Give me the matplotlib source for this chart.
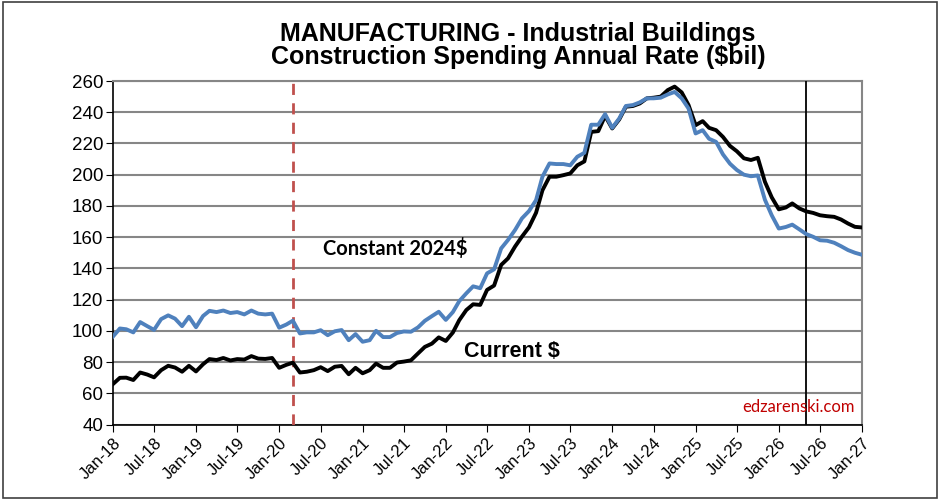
import matplotlib.pyplot as plt
import matplotlib.dates as mdates
from matplotlib.patches import Rectangle
import pandas as pd

# Monthly values, Jan-18 .. Jan-27 ($bil, annual rate)
months = pd.date_range("2018-01-01", "2027-01-01", freq="MS")

constant_2024 = [
    96.2, 101.5, 101, 99, 105.6, 103, 100.6, 107.5, 109.9, 107.8, 103, 109,
    102.3, 109.5, 112.8, 112, 113, 111.4, 112, 110.5, 113, 111, 110.5, 111,
    102, 104, 106.5, 98.3, 99, 99, 100.4, 97.2, 99.7, 100.5, 94, 97.9,
    93, 94, 100, 96, 96, 98.6, 99.6, 99.4, 102.2, 106.4, 109.4, 112.2,
    107, 112, 119, 124, 128.5, 127.3, 136.8, 139.4, 152.8, 158.2, 164.6, 172,
    176.7, 183.7, 198.7, 207.2, 206.8, 206.8, 206, 211.5, 214, 232, 232, 238.8,
    230, 236, 244, 244.6, 246.3, 248.9, 248.9, 249.3, 251.4, 253, 248.9, 242.4,
    226.4, 228.5, 223, 221, 213, 207, 203, 200, 199, 199.5, 184, 174,
    165.5, 166.5, 168, 165, 162, 160.2, 158, 157.7, 156.4, 154.2, 151.7, 150,
    148.7,
]

current = [
    65.8, 69.9, 70, 68.5, 73.3, 72, 70.2, 74.8, 77.6, 76.5, 73.8, 77.6,
    74, 78.6, 81.9, 81.3, 82.6, 81, 81.9, 81.6, 83.8, 82.2, 82, 82.6,
    76.3, 78.2, 79.6, 73.3, 73.8, 74.8, 76.7, 74.2, 77, 77.5, 72.2, 76.3,
    72.8, 74.8, 79, 76.3, 76.3, 79.7, 80.3, 81.1, 85.5, 89.7, 91.8, 95.8,
    93.5, 98.9, 106.8, 113.3, 117, 116.6, 126.2, 129, 142.2, 146.4, 154, 160.3,
    166.3, 175.6, 190, 198.7, 198.7, 199.7, 200.8, 206, 208.5, 227.4, 227.9, 237.7,
    229.6, 235.4, 243.5, 244, 245.6, 248.9, 249.3, 250, 254.2, 256.4, 252.7, 244.6,
    231.7, 234.3, 230, 228.5, 224.2, 218.4, 215, 210.5, 209.4, 210.8, 195.5, 185.5,
    177.8, 179, 181.6, 178.4, 176.5, 175.5, 174, 173.4, 173, 171.3, 168.7, 166.6,
    166.2,
]

covid_line = pd.Timestamp("2020-03-01")
forecast_line = pd.Timestamp("2026-05-01")

plt.rcParams['font.family'] = ['Liberation Sans', 'DejaVu Sans']

fig = plt.figure(figsize=(9.4, 5), dpi=100)
ax = fig.add_axes([0.120, 0.151, 0.797, 0.687])

ax.plot(months, current, color="black", lw=2.8, zorder=4)
ax.plot(months, constant_2024, color="#4F81BD", lw=2.8, zorder=5)

ax.axvline(covid_line, color="#C0504D", lw=2, ls=(0, (4, 3)), zorder=3)
ax.axvline(forecast_line, color="black", lw=1.3, zorder=3)

ax.set_xlim(months[0], months[-1])
ax.set_ylim(40, 260)
ax.set_yticks(range(40, 261, 20))
ax.yaxis.grid(True, color="#868686", lw=1.5)
ax.set_axisbelow(True)

ax.xaxis.set_major_locator(mdates.MonthLocator(bymonth=[1, 7]))
ax.xaxis.set_major_formatter(mdates.DateFormatter("%b-%y"))
plt.setp(ax.get_xticklabels(), rotation=45, ha="right", rotation_mode="anchor")
ax.tick_params(axis="x", labelsize=12, length=5, direction="out", pad=3)
ax.tick_params(axis="y", labelsize=13.5, length=5, direction="out", pad=2)

for side in ["top", "right"]:
    ax.spines[side].set_color("#868686")
    ax.spines[side].set_linewidth(1.5)
for side in ["left", "bottom"]:
    ax.spines[side].set_color("black")
    ax.spines[side].set_linewidth(1.2)

fig.text(0.551, 0.931, "MANUFACTURING - Industrial Buildings", ha="center", va="center",
         fontsize=18, fontweight="bold")
fig.text(0.551, 0.886, "Construction Spending Annual Rate ($bil)", ha="center", va="center",
         fontsize=18, fontweight="bold")

ax.text(pd.Timestamp("2020-07-13"), 153, "Constant 2024$", fontsize=14.5, fontweight="bold",
        family=["Lato", "DejaVu Sans"], va="center")
ax.text(pd.Timestamp("2022-03-24"), 86.5, "Current $", fontsize=15.5, fontweight="bold",
        va="center")
ax.text(0.99, 0.05, "edzarenski.com", transform=ax.transAxes, ha="right", va="center",
        fontsize=12, color="#C00000", family=["Lato", "DejaVu Sans"])

fig.patches.append(Rectangle((0.003, 0.004), 0.994, 0.992, transform=fig.transFigure,
                             fill=False, edgecolor="#404040", lw=1.2))

fig.savefig("out.png", dpi=100)
